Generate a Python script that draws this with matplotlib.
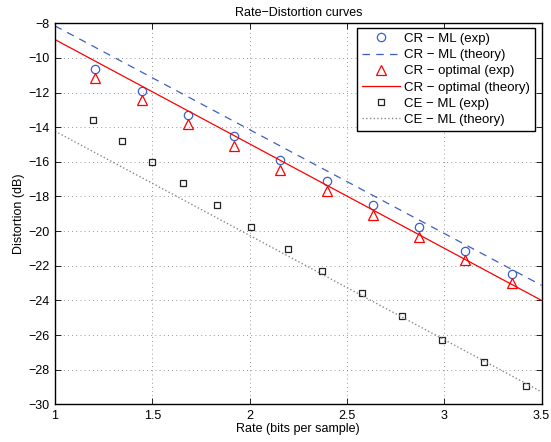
import matplotlib
matplotlib.use("Agg")
import matplotlib.pyplot as plt
import numpy as np

plt.rcParams['font.family'] = ['Liberation Sans', 'DejaVu Sans']
plt.rcParams['font.size'] = 9
plt.rcParams['axes.unicode_minus'] = True

# Puntos medidos (CR)
rate_cr = [1.207, 1.446, 1.682, 1.919, 2.156, 2.396, 2.634, 2.871, 3.109, 3.346]
dist_cr_ml = [-10.62, -11.91, -13.29, -14.52, -15.90, -17.11, -18.49, -19.74, -21.17, -22.45]
dist_cr_opt = [-11.14, -12.42, -13.83, -15.08, -16.47, -17.67, -19.07, -20.32, -21.68, -22.99]

# Puntos medidos (CE)
rate_ce = [1.197, 1.345, 1.500, 1.660, 1.832, 2.008, 2.195, 2.373, 2.579, 2.781, 2.987, 3.203, 3.418]
dist_ce_ml = [-13.60, -14.81, -16.01, -17.25, -18.50, -19.74, -21.01, -22.30, -23.60, -24.92, -26.26, -27.57, -28.92]

# Curvas teoricas (extremos)
rate_theory = [1.0, 3.5]
theory_cr_ml = [-8.15, -23.13]
theory_cr_opt = [-8.94, -24.00]
theory_ce_ml = [-14.23, -29.28]

fig = plt.figure(figsize=(5.51, 4.42), dpi=100)
ax = fig.add_axes([0.0998, 0.0853, 0.883, 0.862])

azul = '#3d5fc4'
ax.plot(rate_cr, dist_cr_ml, 'o', mfc='none', mec=azul, ms=6, mew=0.9, label='CR − ML (exp)')
ax.plot(rate_theory, theory_cr_ml, '--', color=azul, lw=0.9, dashes=(6, 5), label='CR − ML (theory)')
ax.plot(rate_cr, dist_cr_opt, '^', mfc='none', mec='red', ms=7, mew=0.9, label='CR − optimal (exp)')
ax.plot(rate_theory, theory_cr_opt, '-', color='red', lw=0.9, label='CR − optimal (theory)')
ax.plot(rate_ce, dist_ce_ml, 's', mfc='none', mec='#222222', ms=5, mew=0.9, label='CE − ML (exp)')
ax.plot(rate_theory, theory_ce_ml, ':', color='#888888', lw=1.0, label='CE − ML (theory)')

ax.set_xlim(1, 3.5)
ax.set_ylim(-30, -8)
ax.set_xticks(np.arange(1, 3.51, 0.5))
ax.set_xticklabels(['1', '1.5', '2', '2.5', '3', '3.5'])
ax.set_yticks(np.arange(-30, -7, 2))
ax.tick_params(direction='in', top=True, right=True, length=4, width=0.6, pad=4)
for s in ax.spines.values():
    s.set_linewidth(1.0)

ax.grid(True, linestyle=(0, (1, 4)), color='#777777', linewidth=0.6)
ax.set_axisbelow(True)

ax.set_title('Rate−Distortion curves', fontsize=9, pad=5)
ax.set_xlabel('Rate (bits per sample)', labelpad=1)
ax.set_ylabel('Distortion (dB)', labelpad=2)

leg = ax.legend(loc='upper right', bbox_to_anchor=(0.986, 0.987), fancybox=False,
                edgecolor='black', framealpha=1, fontsize=9.5, handlelength=2.9,
                borderaxespad=0, labelspacing=0.3, handletextpad=0.3, borderpad=0.35)
leg.get_frame().set_linewidth(1.0)

fig.savefig('out.png', dpi=100)
